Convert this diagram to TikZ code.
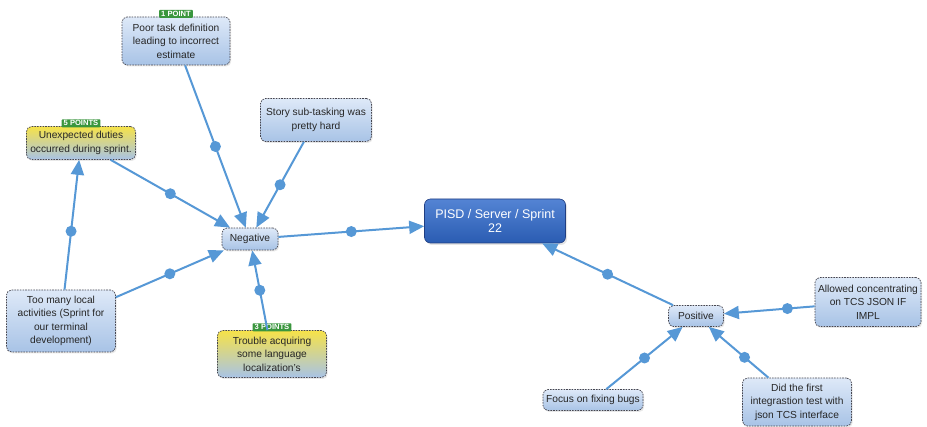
\documentclass[tikz,border=0pt]{standalone}
\usepackage{fontspec}
\setmainfont{Liberation Sans}
\usetikzlibrary{arrows.meta,shadows}
\definecolor{nTop}{RGB}{222,233,248}
\definecolor{nBot}{RGB}{168,195,230}
\definecolor{yTop}{RGB}{246,226,72}
\definecolor{lineC}{RGB}{86,152,214}
\definecolor{pTop}{RGB}{84,132,212}
\definecolor{pBot}{RGB}{42,92,178}
\definecolor{pBorder}{RGB}{32,62,130}
\definecolor{badgeC}{RGB}{58,150,62}
\definecolor{bordC}{RGB}{70,70,80}
\tikzset{
  topic/.style={draw=bordC, line width=0.7pt, dash pattern=on 1.6pt off 1.1pt,
    rounded corners=5pt, top color=nTop, bottom color=nBot, align=center,
    font=\fontsize{10.2}{13.5}\selectfont, text=black!85, inner sep=2pt,
    drop shadow={opacity=0.18, shadow xshift=1.2pt, shadow yshift=-1.5pt}},
  ytopic/.style={topic, top color=yTop, bottom color=nBot},
  central/.style={draw=pBorder, line width=0.6pt, rounded corners=6pt,
    top color=pTop, bottom color=pBot, align=center, text=white,
    font=\fontsize{12.5}{14}\selectfont, inner sep=2pt,
    drop shadow={opacity=0.2, shadow xshift=1.5pt, shadow yshift=-2pt}},
  badge/.style={fill=badgeC, text=white, font=\fontsize{7.6}{7.6}\selectfont\bfseries,
    inner xsep=2pt, inner ysep=1.4pt, anchor=south, rounded corners=0.8pt},
  conn/.style={draw=lineC, line width=2pt, -{Triangle[length=15pt,width=13pt]}},
  dot/.style={circle, fill=lineC, inner sep=0pt, minimum size=11pt},
}
\begin{document}
\begin{tikzpicture}[x=1pt,y=-1pt]
\useasboundingbox[fill=white] (0,0) rectangle (927,427);
% nodes
\node[topic, minimum width=108pt, minimum height=48pt] (poor) at (176,41) {Poor task definition\\leading to incorrect\\estimate};
\node[topic, minimum width=111pt, minimum height=43pt] (story) at (316,120) {Story sub-tasking was\\pretty hard};
\node[ytopic, minimum width=109pt, minimum height=33pt] (unexp) at (81,143) {Unexpected duties\\occurred during sprint.};
\node[topic, minimum width=56pt, minimum height=22pt] (neg) at (250,239) {Negative};
\node[central, minimum width=141pt, minimum height=44pt] (pisd) at (495,221) {PISD / Server / Sprint\\22};
\node[topic, minimum width=109pt, minimum height=62pt] (many) at (61,321) {Too many local\\activities (Sprint for\\our terminal\\development)};
\node[ytopic, minimum width=109pt, minimum height=47pt] (trouble) at (272,354) {Trouble acquiring\\some language\\localization's};
\node[topic, minimum width=55pt, minimum height=21pt] (pos) at (696,316) {Positive};
\node[topic, minimum width=106pt, minimum height=49pt] (allowed) at (868,302) {Allowed concentrating\\on TCS JSON IF\\IMPL};
\node[topic, minimum width=100pt, minimum height=21pt] (focus) at (593,400) {Focus on fixing bugs};
\node[topic, minimum width=109pt, minimum height=48pt] (did) at (797,402) {Did the first\\integrastion test with\\json TCS interface};
% badges
\node[badge] (b1) at ([yshift=-1.5pt]poor.north) {1 POINT};
\node[badge] (b5) at ([yshift=-1.5pt]unexp.north) {5 POINTS};
\node[badge] (b3) at ([yshift=-1.5pt]trouble.north) {3 POINTS};
% connectors
\draw[conn] (poor) -- node[dot]{} (neg);
\draw[conn] (story) -- node[dot]{} (neg);
\draw[conn] (unexp) -- node[dot]{} (neg);
\draw[conn] (many) -- node[dot]{} (neg);
\draw[conn] (many) -- node[dot, pos=0.45]{} (unexp);
\draw[conn] (trouble) -- node[dot]{} (neg);
\draw[conn] (neg) -- node[dot]{} (pisd);
\draw[conn] (pos) -- node[dot]{} (pisd);
\draw[conn] (allowed) -- node[dot, pos=0.3]{} (pos);
\draw[conn] (focus) -- node[dot]{} (pos);
\draw[conn] (did) -- node[dot, pos=0.4]{} (pos);
\end{tikzpicture}
\end{document}
